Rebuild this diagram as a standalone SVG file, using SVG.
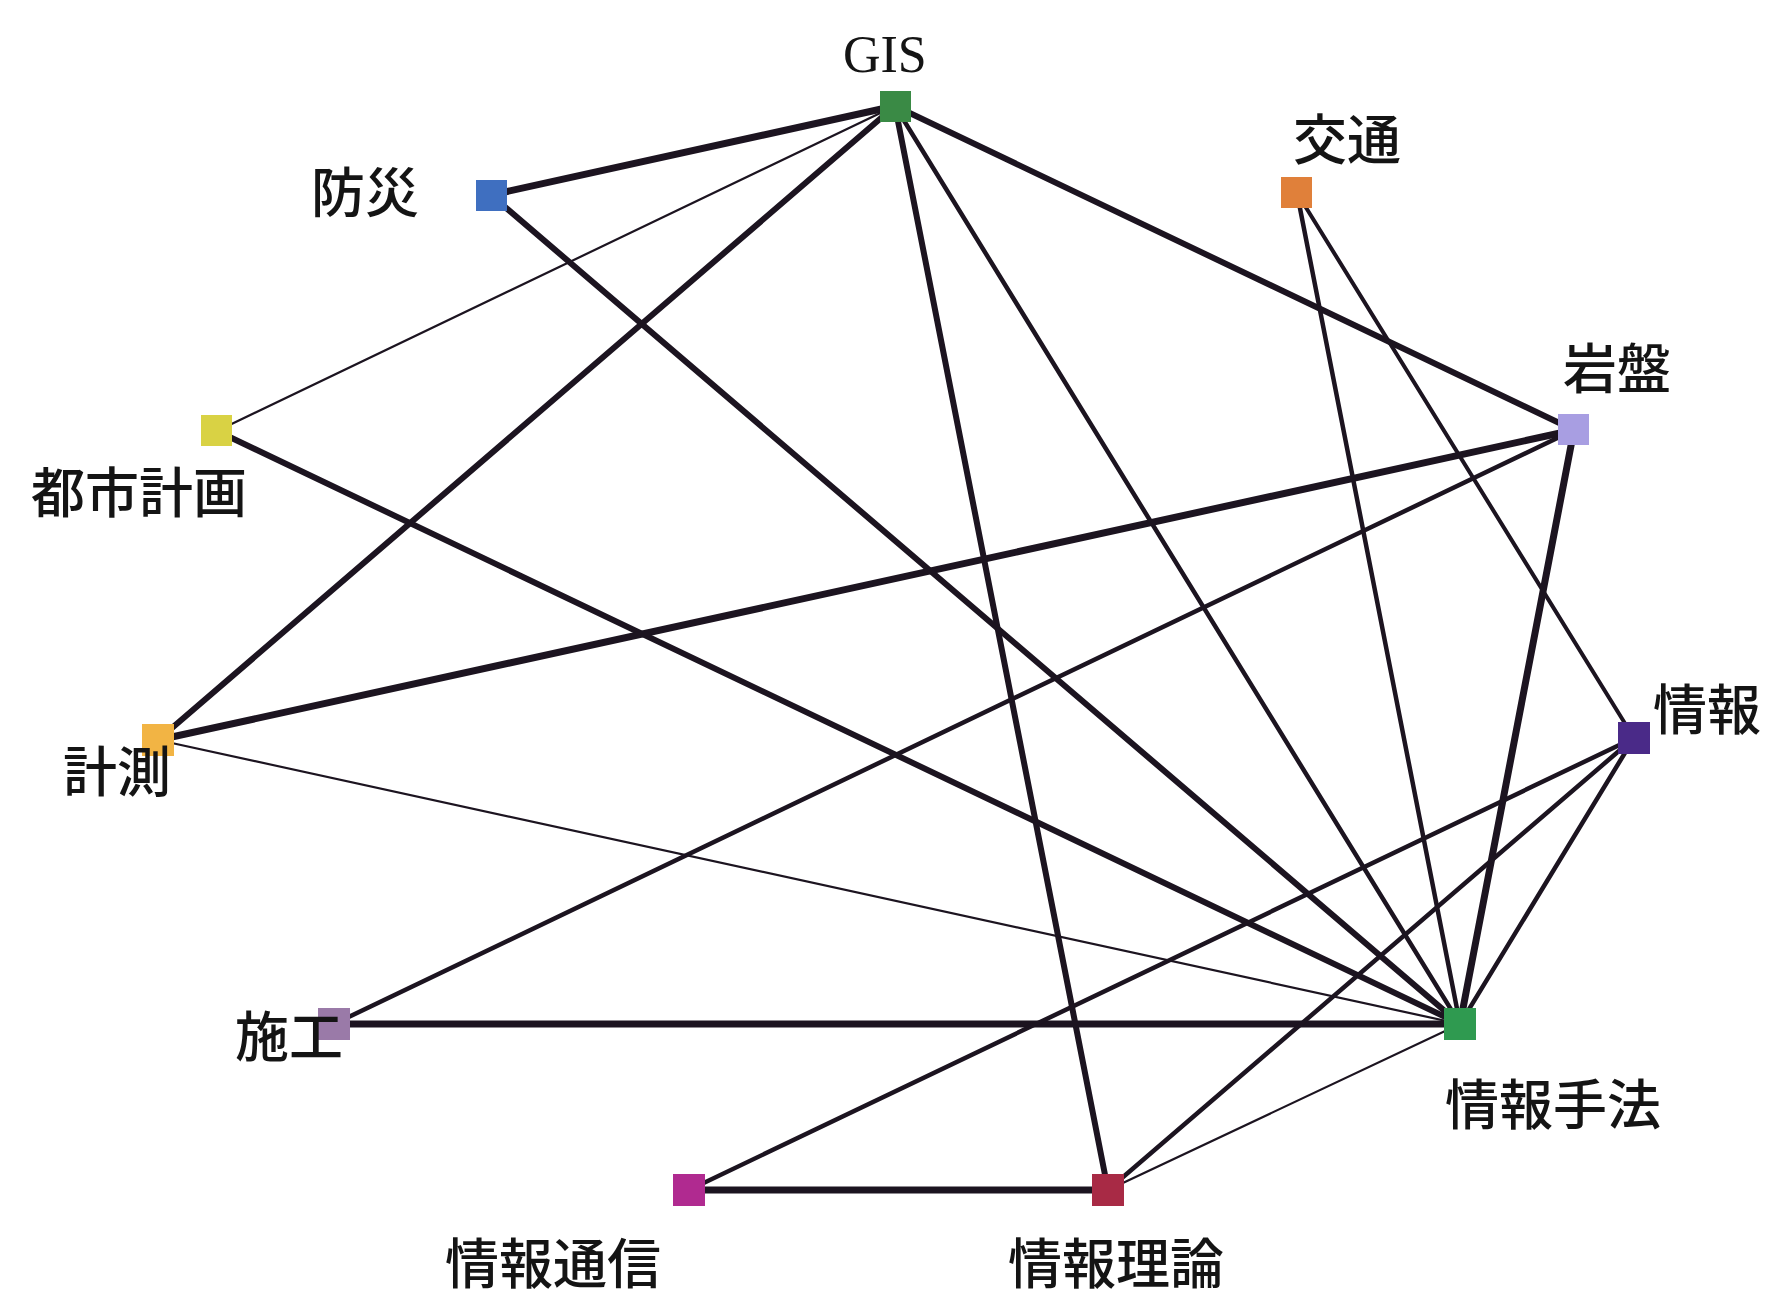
<svg xmlns="http://www.w3.org/2000/svg" width="1765" height="1300" viewBox="0 0 1765 1300">
<style>
.e{stroke:#1c1420;stroke-linecap:round;fill:none}
.w6{stroke-width:7}.w5{stroke-width:6}.w4{stroke-width:4.5}.w3{stroke-width:4}.w2{stroke-width:2.2}
.n{stroke:none}
.t{font-family:"Noto Sans CJK JP","Noto Sans CJK SC",sans-serif;font-size:54px;font-weight:500;fill:#141414}
.s{font-family:"Liberation Serif",serif;font-size:52px;fill:#141414}
</style>
<rect width="1765" height="1300" fill="#ffffff"/>
<g id="connectors">
<line class="e w6" x1="895" y1="106" x2="491" y2="195"/>
<line class="e w2" x1="895" y1="106" x2="217" y2="431"/>
<line class="e w5" x1="895" y1="106" x2="158" y2="740"/>
<line class="e w5" x1="895" y1="106" x2="1108" y2="1190"/>
<line class="e w4" x1="895" y1="106" x2="1460" y2="1024"/>
<line class="e w5" x1="895" y1="106" x2="1574" y2="430"/>
<line class="e w5" x1="491" y1="195" x2="1460" y2="1024"/>
<line class="e w5" x1="217" y1="431" x2="1460" y2="1024"/>
<line class="e w4" x1="1297" y1="193" x2="1460" y2="1024"/>
<line class="e w3" x1="1297" y1="193" x2="1634" y2="738"/>
<line class="e w6" x1="1574" y1="430" x2="158" y2="740"/>
<line class="e w4" x1="1574" y1="430" x2="334" y2="1024"/>
<line class="e w6" x1="1574" y1="430" x2="1460" y2="1024"/>
<line class="e w2" x1="158" y1="740" x2="1460" y2="1024"/>
<line class="e w6" x1="334" y1="1024" x2="1460" y2="1024"/>
<line class="e w4" x1="1634" y1="738" x2="689" y2="1190"/>
<line class="e w4" x1="1634" y1="738" x2="1108" y2="1190"/>
<line class="e w4" x1="1634" y1="738" x2="1460" y2="1024"/>
<line class="e w6" x1="689" y1="1190" x2="1108" y2="1190"/>
<line class="e w2" x1="1108" y1="1190" x2="1460" y2="1024"/>
</g>
<g id="node-GIS"><rect class="n" x="880" y="91" width="31" height="31" fill="#3a8a45"/><text class="s" x="843" y="72">GIS</text></g>
<g id="node-bousai"><rect class="n" x="476" y="180" width="31" height="31" fill="#3f6fc0"/><text class="t" x="311" y="213">防災</text></g>
<g id="node-koutsu"><rect class="n" x="1281" y="177" width="31" height="31" fill="#e0803a"/><text class="t" x="1293" y="160">交通</text></g>
<g id="node-ganban"><rect class="n" x="1558" y="414" width="31" height="31" fill="#a89ee2"/><text class="t" x="1563" y="389">岩盤</text></g>
<g id="node-toshikeikaku"><rect class="n" x="201" y="415" width="31" height="31" fill="#d9d244"/><text class="t" x="31" y="513">都市計画</text></g>
<g id="node-jouhou"><rect class="n" x="1618" y="722" width="32" height="32" fill="#4a2a88"/><text class="t" x="1653" y="730">情報</text></g>
<g id="node-keisoku"><rect class="n" x="142" y="724" width="32" height="32" fill="#f2b444"/><text class="t" x="63" y="792">計測</text></g>
<g id="node-sekou"><rect class="n" x="318" y="1008" width="32" height="32" fill="#9a7aa8"/><text class="t" x="235" y="1057">施工</text></g>
<g id="node-jouhoushuhou"><rect class="n" x="1444" y="1008" width="32" height="32" fill="#2f9a50"/><text class="t" x="1445" y="1125">情報手法</text></g>
<g id="node-jouhoutsuushin"><rect class="n" x="673" y="1174" width="32" height="32" fill="#b02a90"/><text class="t" x="445" y="1284">情報通信</text></g>
<g id="node-jouhouriron"><rect class="n" x="1092" y="1174" width="32" height="32" fill="#a82a45"/><text class="t" x="1008" y="1284">情報理論</text></g>
</svg>
